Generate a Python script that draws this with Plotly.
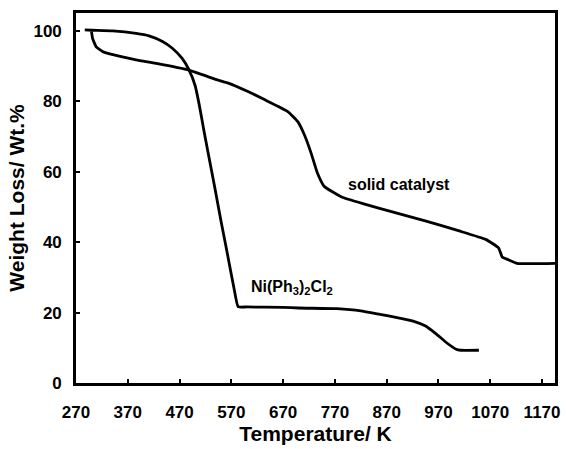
import plotly.graph_objects as go

# Ni(Ph3)2Cl2 curve
ni_x = [287, 300, 341, 386, 411, 437, 456, 475, 488, 500, 508, 516, 525, 538, 550, 560, 575, 583, 600, 670, 700, 774, 820, 857, 890, 921, 945, 966, 985, 1004, 1013, 1048]
ni_y = [100.3, 100.2, 100.0, 99.3, 98.6, 97.0, 95.1, 92.2, 89.0, 84.5, 79.0, 72.5, 65.5, 55.5, 46.0, 38.5, 27.0, 21.7, 21.6, 21.5, 21.3, 21.1, 20.5, 19.5, 18.6, 17.6, 16.2, 13.9, 11.5, 9.6, 9.3, 9.3]

# solid catalyst curve
sc_x = [300, 302, 309, 322, 335, 386, 424, 485, 545, 564, 602, 634, 679, 698, 711, 724, 736, 749, 775, 787, 851, 946, 1010, 1061, 1086, 1093, 1105, 1122, 1195]
sc_y = [99.8, 97.9, 95.5, 94.1, 93.5, 91.8, 90.8, 89.0, 86.0, 85.2, 82.8, 80.5, 77.1, 74.3, 70.5, 65.3, 59.7, 55.9, 53.5, 52.6, 49.8, 46.0, 43.2, 40.8, 38.4, 35.8, 35.0, 34.0, 34.0]

x_ticks = [270, 370, 470, 570, 670, 770, 870, 970, 1070, 1170]
y_ticks = [0, 20, 40, 60, 80, 100]

FONT = "Liberation Sans, Arial, sans-serif"

fig = go.Figure()
fig.add_trace(go.Scatter(x=ni_x, y=ni_y, mode="lines",
                         line=dict(color="black", width=2.8, shape="spline", smoothing=0.4), showlegend=False))
fig.add_trace(go.Scatter(x=sc_x, y=sc_y, mode="lines",
                         line=dict(color="black", width=2.8, shape="spline", smoothing=0.4), showlegend=False))

fig.add_annotation(x=893, y=56.4, text="solid catalyst", showarrow=False,
                   font=dict(family=FONT, size=16, color="black", weight="bold"))
fig.add_annotation(x=687, y=27.2, text="Ni(Ph<sub>3</sub>)<sub>2</sub>Cl<sub>2</sub>", showarrow=False,
                   font=dict(family=FONT, size=16, color="black", weight="bold"))

axis_common = dict(showgrid=False, zeroline=False, showline=True, linecolor="black", linewidth=2.6,
                   mirror=True, ticks="inside", ticklen=4, tickwidth=2, tickcolor="black",
                   tickfont=dict(family=FONT, size=17, color="black", weight="bold"))

fig.update_xaxes(range=[270, 1195], tickvals=x_ticks, ticktext=[str(v) for v in x_ticks],
                 title=dict(text="Temperature/ K", font=dict(family=FONT, size=21, color="black", weight="bold"), standoff=6),
                 ticklabelstandoff=12, **axis_common)
fig.update_yaxes(range=[0, 105.1], tickvals=y_ticks, ticktext=[str(v) for v in y_ticks],
                 title=dict(text="Weight Loss/ Wt.%", font=dict(family=FONT, size=21, color="black", weight="bold"), standoff=4),
                 ticklabelstandoff=8, **axis_common)

fig.update_layout(width=566, height=449, margin=dict(l=76, r=6, t=13, b=65),
                  plot_bgcolor="white", paper_bgcolor="white")

fig.write_html("out.html")
